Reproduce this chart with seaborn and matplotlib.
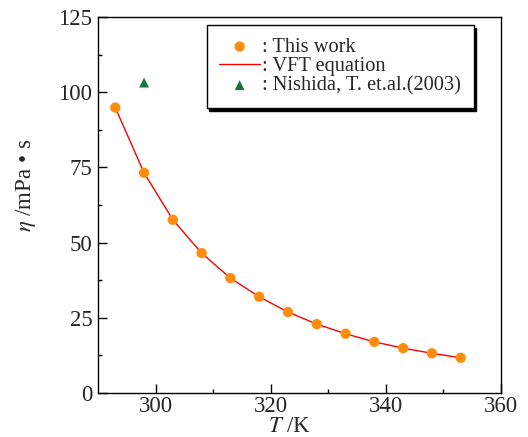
import numpy as np
import pandas as pd
import seaborn as sns
import matplotlib
matplotlib.use("Agg")
import matplotlib.pyplot as plt

# measured viscosity (this work)
temps = [293, 298, 303, 308, 313, 318, 323, 328, 333, 338, 343, 348, 353]
visc = [94.9, 73.2, 57.6, 46.5, 38.2, 32.0, 26.9, 22.9, 19.7, 17.0, 14.9, 13.2, 11.7]
# literature value
lit_temps = [298]
lit_visc = [103.2]

labels = [": This work", ": VFT equation", ": Nishida, T. et.al.(2003)"]

sns.set_style("ticks")
plt.rcParams['font.family'] = ['Liberation Serif', 'DejaVu Sans']
plt.rcParams['mathtext.fontset'] = 'stix'

df = pd.DataFrame({'T': temps, 'eta': visc})
lit = pd.DataFrame({'T': lit_temps, 'eta': lit_visc})

fig = plt.figure(figsize=(5.28, 4.37), dpi=100)
ax = fig.add_axes([0.1856, 0.1007, 0.7633, 0.8603])

sns.scatterplot(data=df, x='T', y='eta', ax=ax, color='#ff8c0a', s=55,
                edgecolor='none', zorder=3, label=labels[0])
sns.lineplot(data=df, x='T', y='eta', ax=ax, color='red', linewidth=1.0,
             zorder=2, label=labels[1])
sns.scatterplot(data=lit, x='T', y='eta', ax=ax, color='#0e7a3a', marker='^',
                s=50, edgecolor='none', zorder=3, label=labels[2])

ax.set_xlim(290, 360)
ax.set_ylim(0, 125)
ax.set_xticks([300, 320, 340, 360])
ax.set_xticks([310, 330, 350], minor=True)
ax.set_yticks([0, 25, 50, 75, 100, 125])
ax.set_yticks(np.arange(12.5, 125, 25), minor=True)
ax.tick_params(which='major', direction='in', length=6.5, width=1,
               labelsize=16.5, pad=4, color='black')
ax.tick_params(axis='x', which='major', pad=2.5)
ax.tick_params(which='minor', direction='in', length=3, width=1, color='black')
for sp in ax.spines.values():
    sp.set_visible(True)
    sp.set_color('black')
    sp.set_linewidth(1)

ax.set_xlabel("$T$ /K", fontsize=16.5)
ax.set_ylabel("$\\eta$ /mPa \u2022 s", fontsize=16.5)
ax.xaxis.set_label_coords(0.476, -0.062)
ax.yaxis.set_label_coords(-0.148, 0.553)

leg = ax.legend(loc='upper right', bbox_to_anchor=(0.932, 0.979),
                borderaxespad=0, fontsize=14.7, frameon=True, fancybox=False,
                shadow={'color': 'black', 'alpha': 1}, edgecolor='black',
                handlelength=2.0, handletextpad=0.1, labelspacing=0.0,
                borderpad=0.62)
leg.get_frame().set_linewidth(1)

fig.savefig("out.png", dpi=100)
